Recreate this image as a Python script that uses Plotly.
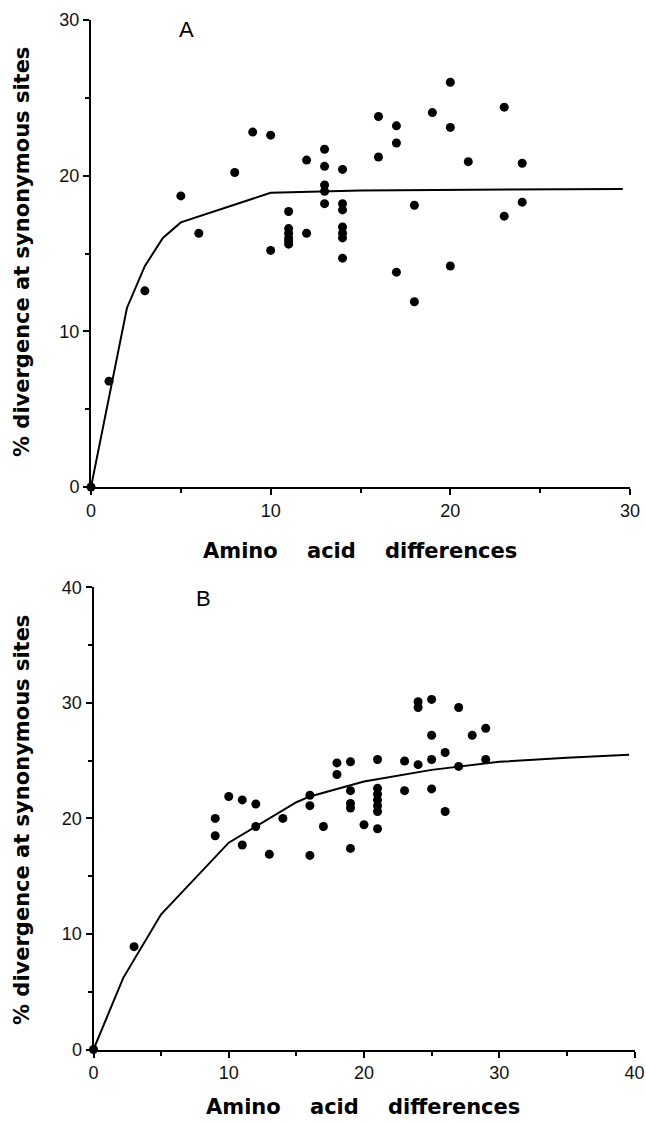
import plotly.graph_objects as go

W, H = 646, 1124

# ---- Panel A data ----
a_x = [0, 1, 3, 5, 6, 8, 9, 10, 10,
       11, 11, 11, 11, 11, 11,
       12, 12,
       13, 13, 13, 13, 13,
       14, 14, 14, 14, 14, 14, 14,
       16, 16, 17, 17, 17, 18, 18, 19, 20, 20, 20, 21, 23, 23, 24, 24]
a_y = [0, 6.8, 12.6, 18.7, 16.3, 20.2, 22.8, 22.6, 15.2,
       17.7, 16.6, 16.3, 16.0, 15.8, 15.6,
       21.0, 16.3,
       21.7, 20.6, 19.4, 19.0, 18.2,
       20.4, 18.2, 17.8, 16.7, 16.3, 16.0, 14.7,
       23.8, 21.2, 23.2, 22.1, 13.8, 18.1, 11.9, 24.05, 26.0, 23.1, 14.2, 20.9, 24.4, 17.4, 20.8, 18.3]
a_fit_x = [0, 2, 3, 4, 5, 10, 15, 20, 25, 29.6]
a_fit_y = [0, 11.5, 14.2, 16.0, 17.0, 18.9, 19.05, 19.1, 19.12, 19.15]

# ---- Panel B data ----
b_x = [0, 3, 9, 9, 10, 11, 11, 12, 12, 13, 14,
       16, 16, 16, 17, 18, 18,
       19, 19, 19, 19, 19, 20,
       21, 21, 21, 21, 21, 21, 21,
       23, 23, 24, 24, 24, 25, 25, 25, 25, 26, 26, 27, 27, 28, 29, 29]
b_y = [0, 8.9, 20.0, 18.5, 21.9, 21.6, 17.7, 21.25, 19.3, 16.9, 20.0,
       22.0, 21.1, 16.8, 19.3, 24.8, 23.8,
       24.9, 22.4, 21.3, 20.9, 17.4, 19.45,
       25.1, 22.6, 22.1, 21.6, 21.1, 20.6, 19.1,
       24.97, 22.4, 30.1, 29.6, 24.65, 30.3, 27.2, 25.1, 22.55, 25.7, 20.6, 29.6, 24.5, 27.2, 27.8, 25.1]
b_fit_x = [0, 2.2, 5, 10, 15, 16, 20, 25, 30, 35, 39.6]
b_fit_y = [0, 6.2, 11.7, 17.9, 21.4, 21.9, 23.2, 24.2, 24.9, 25.25, 25.5]

fig = go.Figure()
fig.add_trace(go.Scatter(x=a_x, y=a_y, mode="markers", xaxis="x", yaxis="y",
                         marker=dict(color="black", size=9), cliponaxis=False, showlegend=False))
fig.add_trace(go.Scatter(x=a_fit_x, y=a_fit_y, mode="lines", xaxis="x", yaxis="y",
                         line=dict(color="black", width=2), cliponaxis=False, showlegend=False))
fig.add_trace(go.Scatter(x=b_x, y=b_y, mode="markers", xaxis="x2", yaxis="y2",
                         marker=dict(color="black", size=9), cliponaxis=False, showlegend=False))
fig.add_trace(go.Scatter(x=b_fit_x, y=b_fit_y, mode="lines", xaxis="x2", yaxis="y2",
                         line=dict(color="black", width=2), cliponaxis=False, showlegend=False))

tickfont = dict(family="Liberation Sans", size=18, color="#111")

def axis(rng, domain, anchor):
    return dict(range=rng, domain=domain, anchor=anchor, showgrid=False, zeroline=False,
                showline=True, linecolor="black", linewidth=2,
                ticks="outside", ticklen=6, tickwidth=2, tickcolor="black",
                dtick=10, tick0=0, tickfont=tickfont,
                minor=dict(ticks="outside", ticklen=4, tickwidth=1.5, tickcolor="black", dtick=5))

def px(v):
    return v / W

def py(v):
    return 1 - v / H

fig.update_layout(
    width=W, height=H,
    margin=dict(l=0, r=0, t=0, b=0, autoexpand=False),
    paper_bgcolor="white", plot_bgcolor="white",
    xaxis=axis([0, 30], [px(91), px(630)], "y"),
    yaxis=axis([0, 30], [py(487), py(20)], "x"),
    xaxis2=axis([0, 40], [px(93.5), px(634.5)], "y2"),
    yaxis2=axis([0, 40], [py(1049.5), py(587.3)], "x2"),
)

title_font = dict(family="DejaVu Sans", size=21, color="black", weight="bold")
sp = "\u00a0\u00a0\u00a0\u00a0"
xtitle = "Amino" + sp + "acid" + sp + "differences"
ytitle = "% divergence at synonymous sites"

anns = [
    dict(text=xtitle, x=px(360), y=py(551), xref="paper", yref="paper", showarrow=False,
         font=title_font, xanchor="center", yanchor="middle"),
    dict(text=xtitle, x=px(363), y=py(1107), xref="paper", yref="paper", showarrow=False,
         font=title_font, xanchor="center", yanchor="middle"),
    dict(text=ytitle, x=px(22), y=py(252), xref="paper", yref="paper", showarrow=False,
         font=title_font, textangle=-90, xanchor="center", yanchor="middle"),
    dict(text=ytitle, x=px(22), y=py(820), xref="paper", yref="paper", showarrow=False,
         font=title_font, textangle=-90, xanchor="center", yanchor="middle"),
    dict(text="A", x=px(186), y=py(30), xref="paper", yref="paper", showarrow=False,
         font=dict(family="Liberation Sans", size=22, color="black"), xanchor="center", yanchor="middle"),
    dict(text="B", x=px(203), y=py(598), xref="paper", yref="paper", showarrow=False,
         font=dict(family="Liberation Sans", size=22, color="black"), xanchor="center", yanchor="middle"),
]
fig.update_layout(annotations=anns)

fig.write_html("out.html", config={"displayModeBar": False},
               post_script="document.body.style.margin='0';document.body.style.overflow='hidden';")
